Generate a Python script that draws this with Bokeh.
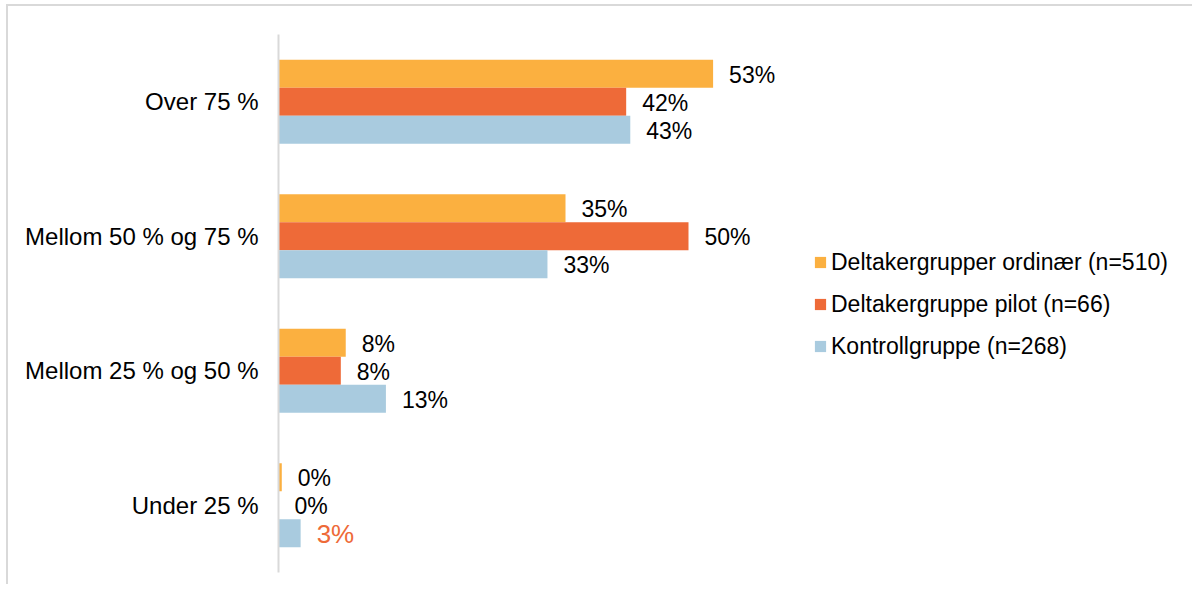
from bokeh.plotting import figure
from bokeh.models import ColumnDataSource, FactorRange, Range1d, Legend, LegendItem
from bokeh.transform import dodge
from bokeh.core.properties import value
from bokeh.embed import file_html
from bokeh.resources import INLINE

# ---- data ----
categories = ["Over 75 %", "Mellom 50 % og 75 %", "Mellom 25 % og 50 %", "Under 25 %"]
series_names = ["Deltakergrupper ordinær (n=510)", "Deltakergruppe pilot (n=66)", "Kontrollgruppe (n=268)"]
ordinaer = [53.0, 35.0, 8.2, 0.4]
pilot = [42.4, 50.0, 7.6, 0.0]
kontroll = [42.9, 32.8, 13.1, 2.7]

# ---- style ----
colors = ["#FBB040", "#EE6A38", "#A9CBDF"]
highlight_color = "#EE6A38"
FONT = "Liberation Sans"
bar_h = 0.208
offsets = [bar_h, 0.0, -bar_h]

W, H = 1186, 580
LEFT, TOP, BOTTOM = 270, 28, 14
px_per_unit = 8.2
x_end = (W - LEFT) / px_per_unit

p = figure(width=W, height=H, output_backend="svg", toolbar_location=None,
           y_range=FactorRange(factors=categories[::-1]),
           x_range=Range1d(0, x_end),
           min_border_left=LEFT, min_border_top=TOP, min_border_bottom=BOTTOM,
           min_border_right=0,
           styles={"border-top": "2px solid #d9d9d9", "border-left": "2px solid #d9d9d9",
                   "margin-left": "6px", "margin-top": "4px"})
p.outline_line_color = None
p.grid.visible = False
p.xaxis.visible = False
p.yaxis.axis_line_color = "#d9d9d9"
p.yaxis.axis_line_width = 2
p.yaxis.major_tick_line_color = None
p.yaxis.minor_tick_line_color = None
p.yaxis.major_label_standoff = 14
p.yaxis.major_label_text_font = FONT
p.yaxis.major_label_text_font_size = "24px"
p.yaxis.major_label_text_color = "#000000"

all_values = [ordinaer, pilot, kontroll]
items = []
for i, (name, vals) in enumerate(zip(series_names, all_values)):
    labels = ["%.0f%%" % v for v in vals]
    tcolors = ["#000000"] * len(vals)
    tsizes = ["23px"] * len(vals)
    if i == 2:
        tcolors[3] = highlight_color
        tsizes[3] = "26px"
    src = ColumnDataSource(dict(cat=categories, val=vals, lab=labels, tc=tcolors, ts=tsizes))
    r = p.hbar(y=dodge("cat", offsets[i], range=p.y_range), right="val", left=0,
               height=bar_h, source=src, fill_color=colors[i], line_color=None)
    p.text(x="val", y=dodge("cat", offsets[i], range=p.y_range), text="lab", source=src,
           x_offset=16, y_offset=1, text_baseline="middle", text_align="left",
           text_font=value(FONT), text_font_size="ts", text_color="tc")
    items.append(LegendItem(label=name, renderers=[r]))

legend = Legend(items=items, location=(535, 212), orientation="vertical")
legend.glyph_width = 14
legend.glyph_height = 14
legend.label_height = 28
legend.spacing = 14
legend.label_standoff = 4
legend.padding = 0
legend.margin = 0
legend.border_line_color = None
legend.background_fill_alpha = 0
legend.label_text_font = FONT
legend.label_text_font_size = "23px"
legend.label_text_color = "#000000"
p.add_layout(legend)

open("out.html", "w").write(file_html(p, INLINE))
